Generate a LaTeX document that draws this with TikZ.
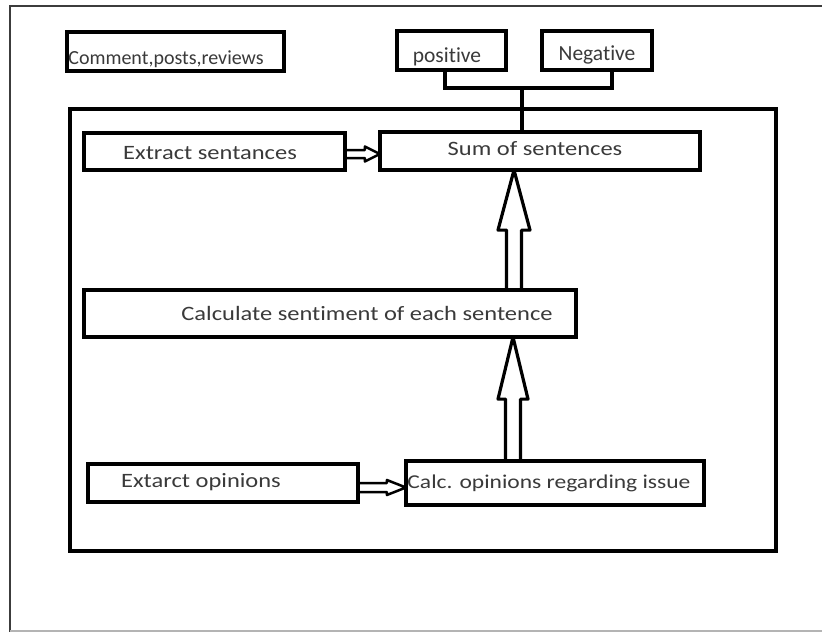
\documentclass[tikz,border=0pt]{standalone}
\usepackage{fontspec}
\setmainfont[RawFeature={-liga}]{Carlito}
\newfontfamily\widefont[FakeStretch=1.2,RawFeature={-liga}]{Carlito}
\usetikzlibrary{calc}

\definecolor{inkgray}{HTML}{3A3A3A}
\definecolor{pagegray}{HTML}{3C3C3C}
\definecolor{edgegray}{HTML}{B4B4B4}

\begin{document}
\begin{tikzpicture}[x=1pt,y=-1pt,
  box/.style={draw=black, line width=3.8pt, rectangle, inner sep=0pt, outer sep=0pt},
  lbl/.style={inner sep=0pt, anchor=base, text=inkgray,
    font=\widefont\fontsize{20.4}{24}\selectfont},
  toplbl/.style={inner sep=0pt, anchor=base, text=inkgray,
    font=\fontsize{20}{24}\selectfont},
  bigarrow/.style={draw=black, line width=3.2pt, line join=round},
  smallarrow/.style={draw=black, line width=2.5pt, line join=round},
  wire/.style={draw=black, line width=3.2pt}]

\useasboundingbox[fill=white] (0,0) rectangle (822,632);

% page edges
\draw[pagegray, line width=2.3pt] (822,6) -- (10,6) -- (10,632);
\draw[edgegray, line width=2pt] (10,631) -- (822,631);

% input and output boxes along the top
\node[box, minimum width=217.2pt, minimum height=39.2pt] (src) at (175.5,51.5) {};
\node[box, minimum width=109.2pt, minimum height=39.2pt] (pos) at (451.5,50.5) {};
\node[box, minimum width=110.2pt, minimum height=39.2pt] (neg) at (597,50.5) {};
\node[toplbl] (srct) at (166,64) {Comment,posts,reviews};
\node[toplbl, font=\fontsize{21.5}{24}\selectfont] (post) at (447,62) {positive};
\node[toplbl, font=\fontsize{21.5}{24}\selectfont] (negt) at (597,60) {Negative};

% process container
\draw[line width=3.6pt] (69.8,108.8) rectangle (776.2,551.2);
\draw[line width=2.5pt] (775,533) -- (775,543);

% process steps
\node[box, minimum width=261.2pt, minimum height=37.2pt] (extract) at (214.5,151.5) {};
\node[box, minimum width=320.2pt, minimum height=38.2pt] (sum) at (540,151) {};
\node[box, minimum width=492.2pt, minimum height=47.2pt] (sentc) at (330,313.5) {};
\node[box, minimum width=270.2pt, minimum height=38.2pt] (opin) at (223,483) {};
\node[box, minimum width=298.2pt, minimum height=44.2pt] (copin) at (555,483) {};

\node[lbl] (extractt) at (210,159) {Extract sentances};
\node[lbl] (sumt) at (535,155) {Sum of sentences};
\node[lbl] (sentct) at (367,320) {Calculate sentiment of each sentence};
\node[lbl] (opint) at (201,487) {Extarct opinions};
\node[lbl, font=\widefont\fontsize{19.6}{24}\selectfont] (copint) at (549,488) {Calc. opinions regarding issue};

% bracket joining positive and negative to the sum
\coordinate (bl) at (445,88);
\coordinate (br) at (612,88);
\coordinate (join) at (522,88);
\draw[wire] (bl |- pos.south) -- (bl) -- (br) -- (br |- neg.south);
\draw[wire] (join) -- (join |- sum.north);

% hollow block arrows
\coordinate (ax1) at (514,0);
\coordinate (ax2) at (513,0);
\draw[bigarrow] let \p1=(ax1 |- sentc.north), \p2=(ax1 |- sum.south) in
  (\x1-7.5pt,\y1) -- (\x1-7.5pt,\y2-60pt) -- (\x1-16pt,\y2-60pt) -- (\x2,\y2)
  -- (\x1+16pt,\y2-60pt) -- (\x1+7.5pt,\y2-60pt) -- (\x1+7.5pt,\y1);
\draw[bigarrow] let \p1=(ax2 |- copin.north), \p2=(ax2 |- sentc.south) in
  (\x1-7.5pt,\y1) -- (\x1-7.5pt,\y2-62pt) -- (\x1-15pt,\y2-62pt) -- (\x2,\y2)
  -- (\x1+15pt,\y2-62pt) -- (\x1+7.5pt,\y2-62pt) -- (\x1+7.5pt,\y1);

\draw[smallarrow] let \p1=([yshift=-2.5pt]extract.east), \p2=([yshift=-2.5pt]sum.west |- extract.east) in
  (\x1,\y1+4pt) -- (\x2-15pt,\y1+4pt) -- (\x2-15pt,\y1+7.5pt) -- (\x2,\y1)
  -- (\x2-15pt,\y1-7.5pt) -- (\x2-15pt,\y1-4pt) -- (\x1,\y1-4pt);
\draw[smallarrow] let \p1=([yshift=-4.5pt]opin.east), \p2=([yshift=-4.5pt]copin.west |- opin.east) in
  (\x1,\y1+4.5pt) -- (\x2-19pt,\y1+4.5pt) -- (\x2-19pt,\y1+7.5pt) -- (\x2,\y1)
  -- (\x2-19pt,\y1-7.5pt) -- (\x2-19pt,\y1-4.5pt) -- (\x1,\y1-4.5pt);
\end{tikzpicture}
\end{document}
